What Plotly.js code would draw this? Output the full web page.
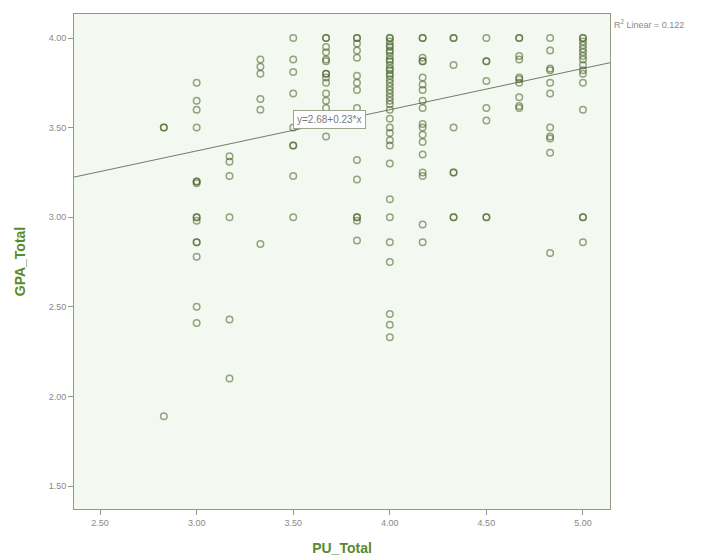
<!DOCTYPE html>
<html>
<head>
<meta charset="utf-8">
<script src="https://cdn.plot.ly/plotly-3.0.1.min.js"></script>
<style>html,body{margin:0;padding:0;background:#fff;}#chart{width:707px;height:560px;}</style>
</head>
<body>
<div id="chart"></div>
<script>
// PU_Total levels (x) and GPA_Total values observed at each level (y)
const puLevels = [2.83, 3.00, 3.17, 3.33, 3.50, 3.67, 3.83, 4.00, 4.17, 4.33, 4.50, 4.67, 4.83, 5.00];
const gpa283 = [3.50, 3.50, 1.89];
const gpa300 = [3.75, 3.65, 3.60, 3.50, 3.20, 3.20, 3.19, 3.00, 3.00, 2.98, 2.86, 2.86, 2.78, 2.50, 2.41];
const gpa317 = [3.34, 3.31, 3.23, 3.00, 2.43, 2.10];
const gpa333 = [3.88, 3.84, 3.80, 3.66, 3.60, 2.85];
const gpa350 = [4.00, 3.88, 3.81, 3.69, 3.50, 3.40, 3.40, 3.23, 3.00];
const gpa367 = [4.00, 4.00, 3.95, 3.92, 3.88, 3.87, 3.80, 3.80, 3.78, 3.75, 3.69, 3.65, 3.61, 3.45];
const gpa383 = [4.00, 4.00, 3.97, 3.93, 3.89, 3.79, 3.75, 3.71, 3.61, 3.32, 3.21, 3.00, 3.00, 2.98, 2.87];
const gpa400 = [4.00, 4.00, 3.98, 3.96, 3.95, 3.93, 3.92, 3.90, 3.88, 3.87, 3.85, 3.83, 3.82, 3.80, 3.79, 3.77, 3.75, 3.73, 3.71, 3.69, 3.67, 3.65, 3.63, 3.60, 3.55, 3.50, 3.47, 3.43, 3.40, 3.30, 3.10, 3.00, 2.86, 2.75, 2.46, 2.40, 2.33];
const gpa417 = [4.00, 4.00, 3.89, 3.87, 3.87, 3.78, 3.74, 3.71, 3.65, 3.61, 3.52, 3.50, 3.46, 3.42, 3.35, 3.25, 3.23, 2.96, 2.86];
const gpa433 = [4.00, 4.00, 3.85, 3.50, 3.25, 3.25, 3.00, 3.00];
const gpa450 = [4.00, 3.87, 3.87, 3.76, 3.61, 3.54, 3.00, 3.00];
const gpa467 = [4.00, 4.00, 3.90, 3.88, 3.78, 3.77, 3.75, 3.67, 3.62, 3.61];
const gpa483 = [4.00, 3.93, 3.83, 3.82, 3.75, 3.69, 3.50, 3.45, 3.44, 3.36, 2.80];
const gpa500 = [4.00, 4.00, 3.98, 3.96, 3.94, 3.92, 3.90, 3.88, 3.85, 3.82, 3.80, 3.75, 3.60, 3.00, 3.00, 2.86];

// Fit line coefficients and labels
const fitIntercept = 2.68;
const fitSlope = 0.23;
const fitLabel = "y=2.68+0.23*x";
const r2Label = "R<sup>2</sup> Linear = 0.122";
const xTickVals = [2.5, 3.0, 3.5, 4.0, 4.5, 5.0];
const yTickVals = [1.5, 2.0, 2.5, 3.0, 3.5, 4.0];

const groups = [gpa283, gpa300, gpa317, gpa333, gpa350, gpa367, gpa383, gpa400, gpa417, gpa433, gpa450, gpa467, gpa483, gpa500];
const xs = [], ys = [];
groups.forEach((g, i) => g.forEach(v => { xs.push(puLevels[i]); ys.push(v); }));

const xRange = [2.365, 5.14];
const yRange = [1.372, 4.134];
const lineX = xRange.slice();
const lineY = lineX.map(x => fitIntercept + fitSlope * x);

const green = '#5a8a2a';
const data = [
  {
    type: 'scatter', mode: 'lines', x: lineX, y: lineY,
    line: {color: '#6f7d64', width: 1}, hoverinfo: 'skip', showlegend: false
  },
  {
    type: 'scatter', mode: 'markers', x: xs, y: ys,
    marker: {symbol: 'circle-open', size: 6.5, color: 'rgba(65,95,35,0.55)', line: {width: 1.5}},
    showlegend: false
  }
];

const layout = {
  width: 707, height: 560,
  margin: {l: 74, r: 97, t: 14, b: 51},
  paper_bgcolor: '#ffffff',
  plot_bgcolor: '#f3f8f0',
  font: {family: 'Liberation Sans, Arial, sans-serif', size: 9, color: '#8a8a8a'},
  xaxis: {
    range: xRange, tickvals: xTickVals, tickformat: '.2f',
    showgrid: false, zeroline: false, showline: true, mirror: true,
    linecolor: '#8f9a88', linewidth: 1, ticks: 'outside', ticklen: 5, tickcolor: '#8f9a88',
    tickfont: {size: 9, color: '#8a8a8a'},
    title: {text: 'PU_Total', font: {size: 14, color: green, family: 'Liberation Sans, Arial, sans-serif', weight: 'bold'}, standoff: 16}
  },
  yaxis: {
    range: yRange, tickvals: yTickVals, tickformat: '.2f',
    showgrid: false, zeroline: false, showline: true, mirror: true,
    linecolor: '#8f9a88', linewidth: 1, ticks: 'outside', ticklen: 5, tickcolor: '#8f9a88',
    tickfont: {size: 9, color: '#8a8a8a'},
    title: {text: 'GPA_Total', font: {size: 14, color: green, family: 'Liberation Sans, Arial, sans-serif', weight: 'bold'}, standoff: 19}
  },
  annotations: [
    {
      x: 3.5, y: 3.545, xref: 'x', yref: 'y', xanchor: 'left', yanchor: 'middle',
      text: fitLabel, showarrow: false,
      font: {size: 10, color: '#7a7a7a'},
      bgcolor: '#ffffff', bordercolor: '#9aa68e', borderwidth: 1, borderpad: 3
    },
    {
      x: 1.004, y: 4.08, xref: 'paper', yref: 'y', xanchor: 'left', yanchor: 'middle',
      text: r2Label, showarrow: false,
      font: {size: 9, color: '#8a8a8a'}
    }
  ]
};

Plotly.newPlot('chart', data, layout, {displayModeBar: false, staticPlot: true});
</script>
</body>
</html>
